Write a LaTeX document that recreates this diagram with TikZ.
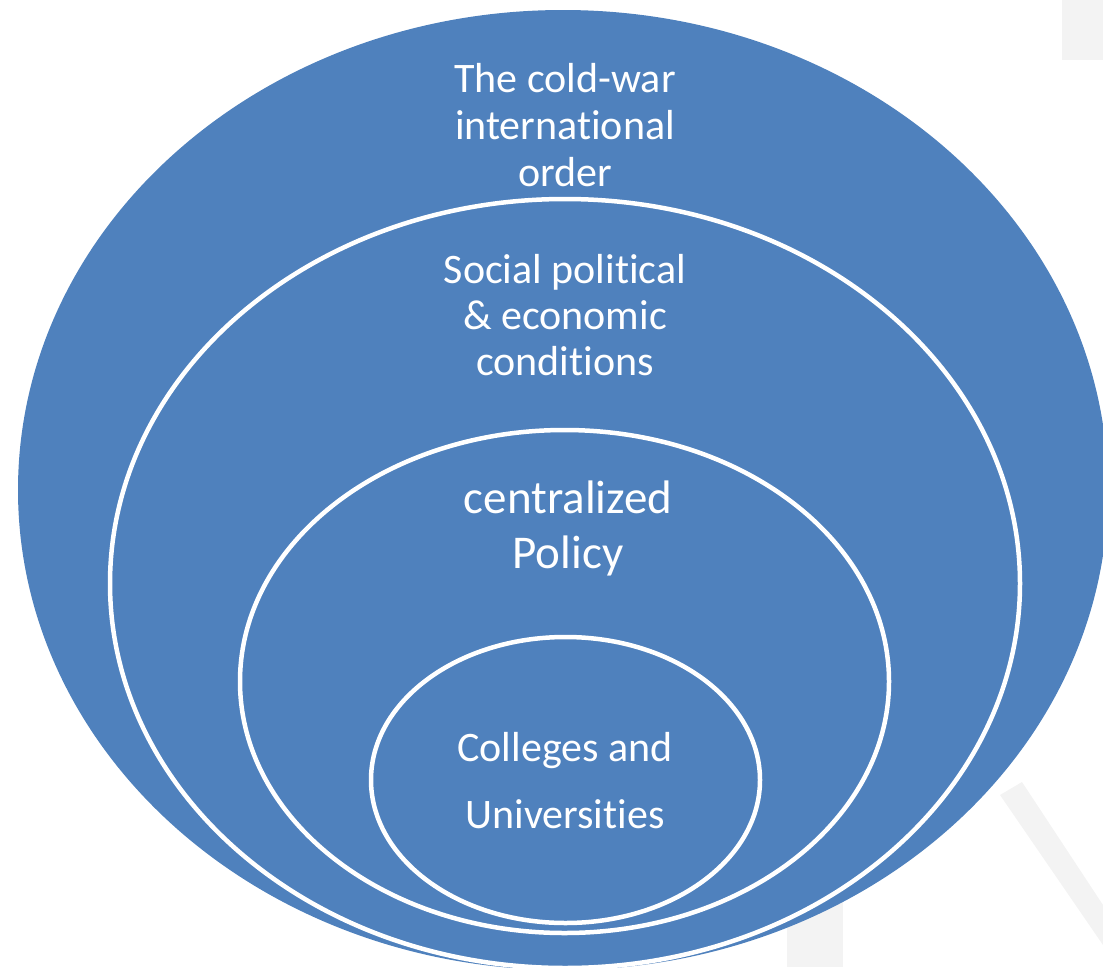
\documentclass[tikz,border=0pt]{standalone}
\usepackage{fontspec}
\setmainfont{Carlito}[Ligatures=NoCommon]
\usetikzlibrary{shapes.geometric}
\definecolor{ringblue}{HTML}{4F81BD}
\definecolor{slidegrey}{HTML}{F3F3F3}
\tikzset{
  ring/.style={ellipse, fill=ringblue, draw=white, line width=4.5pt, inner sep=0pt},
  ringlabel/.style={text=white, align=center},
}
\begin{document}
\begin{tikzpicture}[x=1pt,y=-1pt]
    \useasboundingbox (0,0) rectangle (1103,967);
    \clip (0,0) rectangle (1103,967);
    % faint slide background
    \fill[slidegrey] (1062,0) rectangle (1103,60);
    \fill[slidegrey] (787,900) rectangle (843,967);
    \fill[slidegrey] (1000,795) -- (1022,782) -- (1103,905) -- (1103,945) -- cycle;
    % nested rings
    \node [ring, draw=none, minimum width=1090pt, minimum height=960pt] (world) at (563,490) {};
    \node [ring, minimum width=910pt, minimum height=769pt] (society) at (565,583.5) {};
    \node [ring, minimum width=649pt, minimum height=503pt] (policy) at (564.5,681.5) {};
    \node [ring, minimum width=389pt, minimum height=286pt] (campus) at (565.5,780) {};
    % labels
    \node [ringlabel, font=\fontsize{42}{47}\selectfont] (worldtext) at (565,125) {The cold-war\\international\\order};
    \node [ringlabel, font=\fontsize{42}{46}\selectfont] (societytext) at (565,315) {Social political\\\& economic\\conditions};
    \node [ringlabel, font=\fontsize{47}{55}\selectfont] (policytext) at (568,528) {centralized\\Policy};
    \node [ringlabel, font=\fontsize{42}{67}\selectfont] (campustext) at (565,781) {Colleges and\\Universities};
\end{tikzpicture}
\end{document}
